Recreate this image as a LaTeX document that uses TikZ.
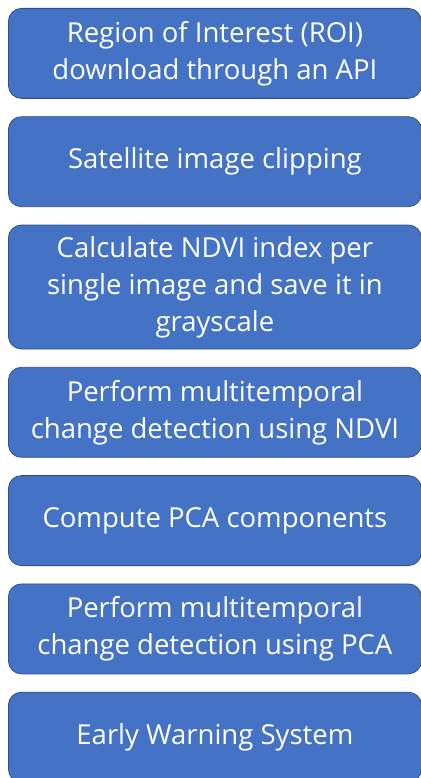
\documentclass[tikz,border=0pt]{standalone}
\usepackage{fontspec}
\setmainfont{Open Sans}
\usetikzlibrary{positioning}

\definecolor{stepfill}{HTML}{4472C4}
\definecolor{stepline}{HTML}{2F528F}

\begin{document}
\begin{tikzpicture}[
  x=1pt, y=1pt,
  font=\fontsize{27.5}{37}\selectfont,
  node distance=17.5pt,
  stage/.style={rectangle, draw=stepline, line width=0.8pt, rounded corners=13pt, fill=stepfill,
    text=white, align=center, minimum width=413pt, minimum height=90pt, inner sep=0pt},
  tall/.style={stage, minimum height=124pt}
]
  \useasboundingbox (0,0) rectangle (420,-778);

  \node[stage, anchor=north west] (roi) at (8,-8) {Region of Interest (ROI)\\download through an API};
  \node[stage, below=of roi] (clip) {Satellite image clipping};
  \node[tall, below=of clip] (ndvi) {Calculate NDVI index per\\single image and save it in\\grayscale};
  \node[stage, below=of ndvi] (chndvi) {Perform multitemporal\\change detection using NDVI};
  \node[stage, below=of chndvi] (pca) {Compute PCA components};
  \node[stage, below=of pca] (chpca) {Perform multitemporal\\change detection using PCA};
  \node[stage, below=of chpca] (ews) {Early Warning System};
\end{tikzpicture}
\end{document}
